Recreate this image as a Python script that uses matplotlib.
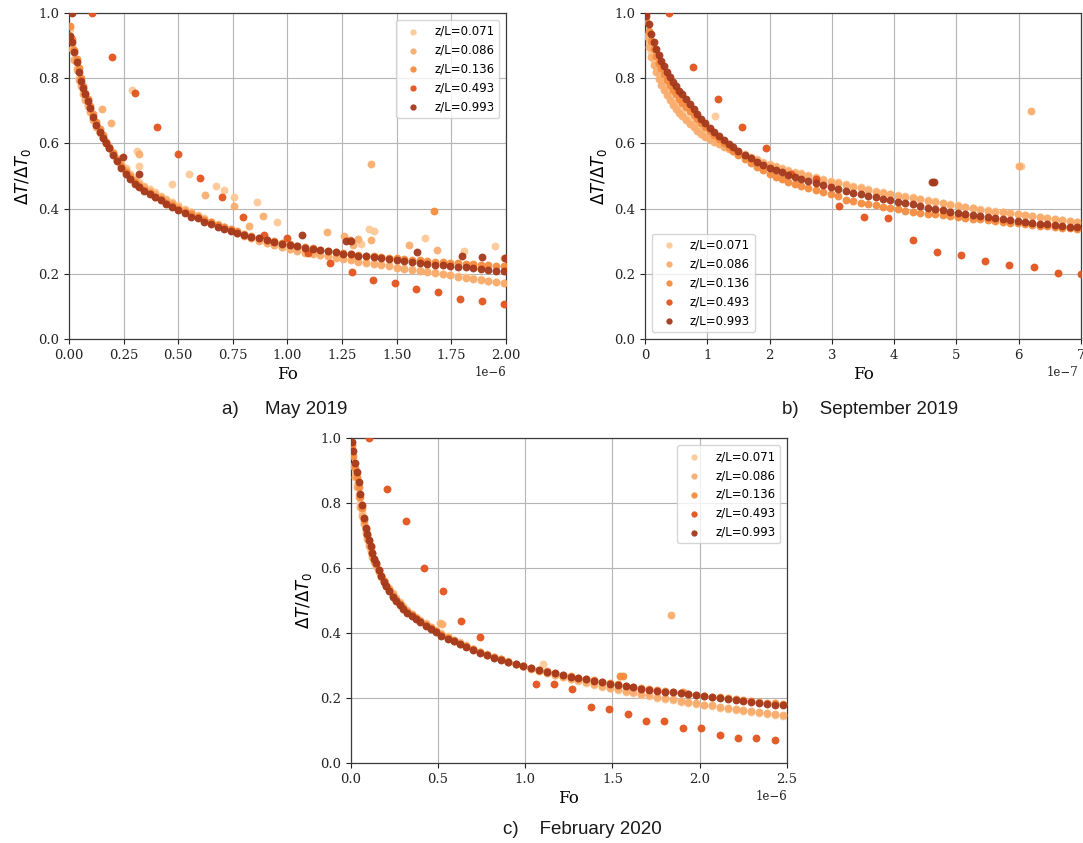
# Cooling curves dT/dT0 against Fourier number, three measurement campaigns

import matplotlib
matplotlib.use('Agg')
import matplotlib.pyplot as plt
import numpy as np

# ----------------------------------------------------------------------------------------------------------------------
#  DATA
# ----------------------------------------------------------------------------------------------------------------------

series_labels = ['z/L=0.071', 'z/L=0.086', 'z/L=0.136', 'z/L=0.493', 'z/L=0.993']
series_colors = ['#fdc997', '#f9ad6e', '#f68b3e', '#e3531b', '#a5391c']

# --- a) May 2019, Fo in units of 1e-6
fo_a = [0.005, 0.015, 0.025, 0.035, 0.045, 0.055, 0.065, 0.075, 0.085, 0.095,
        0.11, 0.125, 0.14, 0.155, 0.17, 0.185, 0.20, 0.22, 0.24, 0.26,
        0.28, 0.30, 0.32, 0.345, 0.37, 0.395, 0.42, 0.445, 0.47, 0.50,
        0.53, 0.56, 0.59, 0.62, 0.65, 0.68, 0.71, 0.74, 0.77, 0.80,
        0.835, 0.87, 0.905, 0.94, 0.975, 1.01, 1.045, 1.08, 1.115, 1.15,
        1.185, 1.22, 1.255, 1.29, 1.325, 1.36, 1.395, 1.43, 1.465, 1.50,
        1.535, 1.57, 1.605, 1.64, 1.675, 1.71, 1.745, 1.78, 1.815, 1.85,
        1.885, 1.92, 1.955, 1.99]
a071 = [0.95, 0.90, 0.86, 0.83, 0.80, 0.78, 0.76, 0.74, 0.72, 0.70,
        0.675, 0.655, 0.635, 0.62, 0.605, 0.59, 0.575, 0.555, 0.54, 0.525,
        0.505, 0.49, 0.48, 0.47, 0.46, 0.45, 0.44, 0.43, 0.42, 0.41,
        0.40, 0.39, 0.38, 0.37, 0.36, 0.352, 0.344, 0.335, 0.326, 0.318,
        0.31, 0.303, 0.295, 0.289, 0.282, 0.276, 0.272, 0.267, 0.263, 0.259,
        0.255, 0.251, 0.248, 0.244, 0.24, 0.236, 0.232, 0.229, 0.226, 0.222,
        0.218, 0.214, 0.211, 0.207, 0.204, 0.2, 0.197, 0.194, 0.19, 0.186,
        0.183, 0.179, 0.176, 0.172]
a086 = [0.93, 0.89, 0.855, 0.825, 0.795, 0.775, 0.752, 0.733, 0.714, 0.695,
        0.672, 0.65, 0.632, 0.615, 0.6, 0.585, 0.57, 0.552, 0.535, 0.518,
        0.502, 0.488, 0.476, 0.465, 0.455, 0.446, 0.436, 0.426, 0.417, 0.406,
        0.397, 0.388, 0.378, 0.368, 0.359, 0.35, 0.342, 0.333, 0.325, 0.317,
        0.309, 0.301, 0.294, 0.287, 0.281, 0.275, 0.27, 0.265, 0.261, 0.257,
        0.253, 0.249, 0.245, 0.241, 0.237, 0.234, 0.23, 0.227, 0.223, 0.219,
        0.216, 0.212, 0.208, 0.205, 0.201, 0.198, 0.195, 0.191, 0.188, 0.185,
        0.181, 0.178, 0.174, 0.171]
a136 = [0.96, 0.92, 0.885, 0.86, 0.83, 0.80, 0.775, 0.755, 0.735, 0.715,
        0.69, 0.665, 0.645, 0.625, 0.605, 0.59, 0.572, 0.55, 0.53, 0.512,
        0.497, 0.483, 0.47, 0.458, 0.447, 0.437, 0.428, 0.418, 0.41, 0.40,
        0.39, 0.382, 0.374, 0.366, 0.358, 0.35, 0.343, 0.336, 0.33, 0.323,
        0.317, 0.311, 0.305, 0.3, 0.294, 0.29, 0.285, 0.281, 0.278, 0.274,
        0.271, 0.268, 0.265, 0.262, 0.259, 0.256, 0.253, 0.251, 0.249, 0.247,
        0.245, 0.243, 0.241, 0.239, 0.237, 0.235, 0.233, 0.232, 0.23, 0.229,
        0.227, 0.226, 0.224, 0.223]
a993 = [0.93, 0.91, 0.88, 0.85, 0.82, 0.79, 0.77, 0.75, 0.73, 0.71,
        0.68, 0.655, 0.635, 0.615, 0.60, 0.585, 0.565, 0.545, 0.525, 0.505,
        0.49, 0.475, 0.465, 0.455, 0.445, 0.435, 0.425, 0.415, 0.405, 0.395,
        0.385, 0.375, 0.37, 0.36, 0.352, 0.345, 0.338, 0.332, 0.326, 0.32,
        0.314, 0.31, 0.303, 0.298, 0.292, 0.288, 0.284, 0.28, 0.277, 0.273,
        0.27, 0.266, 0.262, 0.26, 0.256, 0.253, 0.25, 0.247, 0.244, 0.242,
        0.24, 0.236, 0.234, 0.231, 0.228, 0.226, 0.224, 0.222, 0.22, 0.218,
        0.216, 0.213, 0.21, 0.207]
# scattered points off the main band
a071_fo_x = [0.29, 0.31, 0.32, 0.47, 0.55, 0.675, 0.71, 0.755, 0.86, 0.95, 1.336, 1.373, 1.397, 1.63, 1.81, 1.951]
a071_dt_x = [0.765, 0.576, 0.53, 0.474, 0.507, 0.468, 0.457, 0.437, 0.421, 0.358, 0.292, 0.337, 0.331, 0.31, 0.27, 0.286]
a086_fo_x = [0.153, 0.191, 0.32, 0.622, 0.757, 0.825, 0.889, 1.179, 1.259, 1.30, 1.324, 1.38, 1.384, 1.558, 1.686, 1.99]
a086_dt_x = [0.705, 0.663, 0.568, 0.441, 0.407, 0.348, 0.378, 0.327, 0.317, 0.289, 0.307, 0.303, 0.538, 0.287, 0.274, 0.248]
a136_fo_x = [1.285, 1.672]
a136_dt_x = [0.305, 0.394]
a993_fo_x = [0.012, 0.249, 0.322, 1.068, 1.27, 1.29, 1.594, 1.80, 1.889, 1.995]
a993_dt_x = [1.0, 0.559, 0.505, 0.32, 0.30, 0.30, 0.267, 0.255, 0.25, 0.247]
a493_fo = [0.104, 0.198, 0.30, 0.401, 0.497, 0.60, 0.699, 0.795, 0.893, 0.999,
           1.095, 1.194, 1.297, 1.39, 1.49, 1.59, 1.69, 1.79, 1.89, 1.99]
a493 = [1.0, 0.866, 0.754, 0.651, 0.566, 0.494, 0.437, 0.374, 0.32, 0.31,
        0.264, 0.233, 0.204, 0.18, 0.172, 0.153, 0.145, 0.123, 0.118, 0.108]

# --- b) September 2019, Fo in units of 1e-7
fo_b = [0.02, 0.06, 0.10, 0.14, 0.18, 0.22, 0.26, 0.30, 0.35, 0.40,
        0.45, 0.50, 0.55, 0.60, 0.66, 0.72, 0.78, 0.84, 0.90, 0.97,
        1.04, 1.11, 1.18, 1.26, 1.34, 1.42, 1.50, 1.60, 1.70, 1.80,
        1.90, 2.00, 2.10, 2.20, 2.30, 2.40, 2.50, 2.62, 2.74, 2.86,
        2.98, 3.10, 3.22, 3.34, 3.46, 3.58, 3.70, 3.82, 3.94, 4.06,
        4.18, 4.30, 4.42, 4.54, 4.66, 4.78, 4.90, 5.02, 5.14, 5.26,
        5.38, 5.50, 5.62, 5.74, 5.86, 5.98, 6.10, 6.22, 6.34, 6.46,
        6.58, 6.70, 6.82, 6.94]
b071 = [0.95, 0.91, 0.88, 0.855, 0.833, 0.812, 0.795, 0.778, 0.76, 0.743,
        0.728, 0.715, 0.703, 0.692, 0.68, 0.668, 0.657, 0.647, 0.637, 0.627,
        0.618, 0.61, 0.602, 0.595, 0.588, 0.581, 0.574, 0.566, 0.558, 0.551,
        0.544, 0.537, 0.531, 0.525, 0.519, 0.513, 0.508, 0.502, 0.496, 0.49,
        0.485, 0.48, 0.475, 0.47, 0.465, 0.46, 0.455, 0.45, 0.446, 0.442,
        0.438, 0.434, 0.43, 0.426, 0.422, 0.418, 0.414, 0.41, 0.406, 0.403,
        0.399, 0.396, 0.393, 0.39, 0.387, 0.384, 0.381, 0.378, 0.375, 0.372,
        0.369, 0.366, 0.363, 0.36]
b086 = [0.93, 0.895, 0.865, 0.84, 0.818, 0.798, 0.78, 0.765, 0.748, 0.732,
        0.718, 0.705, 0.694, 0.683, 0.671, 0.66, 0.649, 0.639, 0.63, 0.62,
        0.612, 0.604, 0.597, 0.59, 0.583, 0.577, 0.571, 0.563, 0.555, 0.548,
        0.541, 0.534, 0.528, 0.522, 0.516, 0.51, 0.505, 0.499, 0.493, 0.487,
        0.482, 0.477, 0.472, 0.467, 0.462, 0.457, 0.452, 0.448, 0.444, 0.44,
        0.436, 0.432, 0.428, 0.424, 0.42, 0.416, 0.412, 0.408, 0.404, 0.401,
        0.397, 0.394, 0.391, 0.388, 0.385, 0.382, 0.379, 0.376, 0.373, 0.37,
        0.367, 0.364, 0.361, 0.358]
b136 = [0.975, 0.945, 0.915, 0.89, 0.868, 0.848, 0.83, 0.813, 0.795, 0.778,
        0.763, 0.75, 0.737, 0.725, 0.711, 0.698, 0.686, 0.674, 0.662, 0.649,
        0.637, 0.625, 0.613, 0.6, 0.588, 0.576, 0.565, 0.552, 0.54, 0.528,
        0.517, 0.507, 0.498, 0.49, 0.483, 0.476, 0.47, 0.463, 0.456, 0.45,
        0.445, 0.439, 0.426, 0.422, 0.418, 0.414, 0.41, 0.406, 0.402, 0.398,
        0.394, 0.39, 0.387, 0.384, 0.382, 0.38, 0.377, 0.374, 0.372, 0.369,
        0.367, 0.364, 0.362, 0.36, 0.357, 0.355, 0.352, 0.35, 0.348, 0.346,
        0.343, 0.341, 0.339, 0.336]
b993 = [0.99, 0.965, 0.937, 0.912, 0.89, 0.87, 0.853, 0.837, 0.82, 0.803,
        0.788, 0.775, 0.762, 0.75, 0.735, 0.72, 0.705, 0.69, 0.676, 0.661,
        0.647, 0.634, 0.622, 0.61, 0.599, 0.588, 0.577, 0.565, 0.554, 0.544,
        0.535, 0.526, 0.518, 0.511, 0.504, 0.498, 0.492, 0.485, 0.478, 0.472,
        0.466, 0.46, 0.454, 0.449, 0.444, 0.439, 0.434, 0.43, 0.426, 0.421,
        0.417, 0.413, 0.408, 0.403, 0.399, 0.396, 0.39, 0.386, 0.383, 0.38,
        0.377, 0.374, 0.371, 0.368, 0.365, 0.362, 0.36, 0.357, 0.354, 0.352,
        0.349, 0.347, 0.344, 0.342]
b071_fo_x = [1.124, 6.04]
b071_dt_x = [0.683, 0.532]
b086_fo_x = [6.0, 6.19]
b086_dt_x = [0.532, 0.70]
b136_fo_x = []
b136_dt_x = []
b993_fo_x = [0.01, 4.61, 4.64]
b993_dt_x = [1.0, 0.48, 0.48]
b493_fo = [0.39, 0.77, 1.17, 1.56, 1.94, 2.34, 2.74, 3.12, 3.51, 3.90, 4.30, 4.68, 5.07, 5.46, 5.85, 6.24, 6.63, 7.0]
b493 = [1.0, 0.835, 0.735, 0.65, 0.586, 0.505, 0.491, 0.407, 0.375, 0.372, 0.305, 0.267, 0.258, 0.24, 0.226, 0.22, 0.202, 0.2]

# --- c) February 2020, Fo in units of 1e-6
fo_c = [0.005, 0.015, 0.025, 0.035, 0.045, 0.055, 0.065, 0.075, 0.085, 0.095,
        0.105, 0.115, 0.125, 0.135, 0.145, 0.16, 0.175, 0.19, 0.205, 0.22,
        0.24, 0.26, 0.28, 0.30, 0.325, 0.35, 0.375, 0.40, 0.43, 0.46,
        0.49, 0.52, 0.555, 0.59, 0.625, 0.66, 0.70, 0.74, 0.78, 0.82,
        0.86, 0.90, 0.945, 0.99, 1.035, 1.08, 1.125, 1.17, 1.215, 1.26,
        1.305, 1.35, 1.395, 1.44, 1.485, 1.53, 1.575, 1.62, 1.665, 1.71,
        1.755, 1.80, 1.845, 1.89, 1.935, 1.98, 2.025, 2.07, 2.115, 2.16,
        2.205, 2.25, 2.295, 2.34, 2.385, 2.43, 2.475]
c071 = [0.97, 0.93, 0.89, 0.86, 0.83, 0.80, 0.77, 0.74, 0.715, 0.695,
        0.675, 0.655, 0.64, 0.625, 0.61, 0.592, 0.577, 0.563, 0.55, 0.538,
        0.523, 0.509, 0.496, 0.485, 0.472, 0.461, 0.451, 0.442, 0.431, 0.421,
        0.411, 0.401, 0.391, 0.381, 0.372, 0.363, 0.353, 0.344, 0.336, 0.328,
        0.321, 0.314, 0.306, 0.299, 0.292, 0.285, 0.279, 0.273, 0.267, 0.261,
        0.254, 0.248, 0.242, 0.236, 0.231, 0.226, 0.221, 0.216, 0.211, 0.207,
        0.202, 0.198, 0.194, 0.19, 0.186, 0.182, 0.178, 0.175, 0.171, 0.168,
        0.165, 0.162, 0.159, 0.156, 0.153, 0.15, 0.147]
c086 = [0.95, 0.915, 0.88, 0.85, 0.82, 0.79, 0.762, 0.735, 0.71, 0.69,
        0.67, 0.652, 0.636, 0.621, 0.607, 0.589, 0.574, 0.56, 0.547, 0.535,
        0.52, 0.506, 0.493, 0.482, 0.469, 0.458, 0.448, 0.439, 0.428, 0.418,
        0.408, 0.398, 0.388, 0.378, 0.369, 0.36, 0.351, 0.342, 0.334, 0.327,
        0.32, 0.313, 0.305, 0.298, 0.291, 0.284, 0.278, 0.272, 0.266, 0.26,
        0.255, 0.249, 0.244, 0.238, 0.233, 0.228, 0.223, 0.219, 0.214, 0.21,
        0.205, 0.201, 0.197, 0.193, 0.189, 0.185, 0.181, 0.178, 0.174, 0.171,
        0.168, 0.165, 0.162, 0.159, 0.156, 0.153, 0.15]
c136 = [0.98, 0.945, 0.91, 0.88, 0.85, 0.82, 0.785, 0.75, 0.722, 0.702,
        0.684, 0.665, 0.646, 0.629, 0.614, 0.595, 0.578, 0.561, 0.547, 0.534,
        0.516, 0.502, 0.489, 0.478, 0.466, 0.455, 0.446, 0.437, 0.426, 0.416,
        0.406, 0.396, 0.386, 0.377, 0.368, 0.36, 0.351, 0.342, 0.334, 0.327,
        0.32, 0.313, 0.306, 0.3, 0.294, 0.288, 0.283, 0.278, 0.273, 0.268,
        0.264, 0.259, 0.255, 0.251, 0.247, 0.243, 0.239, 0.236, 0.232, 0.229,
        0.226, 0.223, 0.22, 0.217, 0.214, 0.211, 0.208, 0.205, 0.203, 0.2,
        0.198, 0.195, 0.193, 0.19, 0.187, 0.185, 0.182]
c993 = [0.99, 0.96, 0.925, 0.895, 0.865, 0.83, 0.795, 0.755, 0.725, 0.705,
        0.688, 0.668, 0.648, 0.63, 0.615, 0.595, 0.577, 0.559, 0.545, 0.531,
        0.513, 0.499, 0.486, 0.475, 0.463, 0.452, 0.443, 0.434, 0.423, 0.413,
        0.403, 0.393, 0.384, 0.375, 0.366, 0.358, 0.349, 0.34, 0.332, 0.325,
        0.319, 0.312, 0.305, 0.299, 0.293, 0.287, 0.282, 0.277, 0.272, 0.267,
        0.262, 0.258, 0.253, 0.249, 0.245, 0.241, 0.237, 0.234, 0.23, 0.227,
        0.224, 0.221, 0.218, 0.215, 0.212, 0.209, 0.206, 0.203, 0.2, 0.198,
        0.195, 0.192, 0.19, 0.187, 0.184, 0.181, 0.178]
c071_fo_x = [1.104]
c071_dt_x = [0.305]
c086_fo_x = [0.513, 0.521, 1.835]
c086_dt_x = [0.431, 0.429, 0.456]
c136_fo_x = [1.545, 1.56, 1.906]
c136_dt_x = [0.268, 0.268, 0.22]
c993_fo_x = []
c993_dt_x = []
c493_fo = [0.107, 0.21, 0.317, 0.422, 0.528, 0.634, 0.74, 1.06, 1.166, 1.27, 1.375,
           1.481, 1.587, 1.692, 1.798, 1.903, 2.008, 2.114, 2.22, 2.325, 2.43]
c493 = [1.0, 0.844, 0.747, 0.60, 0.53, 0.438, 0.389, 0.245, 0.245, 0.228, 0.172,
        0.166, 0.152, 0.13, 0.13, 0.11, 0.11, 0.088, 0.077, 0.077, 0.072]

# ----------------------------------------------------------------------------------------------------------------------
#  PLOT
# ----------------------------------------------------------------------------------------------------------------------

plt.rcParams.update({'font.family': 'DejaVu Serif',
                     'mathtext.fontset': 'dejavusans',
                     'xtick.labelsize': 9.5,
                     'ytick.labelsize': 9.5})


def draw_panel(ax, fo, dense, extras, fo_493, dt_493, scale, xmax, legend_loc):
    """dense: y-lists for 0.071, 0.086, 0.136, 0.993 on the shared fo grid;
    extras: (fo, dt) lists of off-band points for the same four series"""
    order = [0, 1, 2, None, 3]   # 0.493 is drawn fourth, 0.993 on top
    for i, k in enumerate(order):
        if k is None:
            x = np.array(fo_493)
            y = np.array(dt_493)
        else:
            x = np.array(fo + extras[k][0])
            y = np.array(dense[k] + extras[k][1])
        ax.scatter(x * scale, y, s=32, color=series_colors[i], linewidths=0,
                   alpha=0.95, label=series_labels[i], zorder=2 + i)

    ax.set_xlim(0, xmax * scale)
    ax.set_ylim(0, 1.0)
    ax.grid(True, color='#b5b5b5', linewidth=0.8)
    ax.set_axisbelow(True)
    for sp in ax.spines.values():
        sp.set_color('#3c3c3c')
        sp.set_linewidth(0.9)
    ax.tick_params(colors='#222222', length=3.5, width=0.8)
    ax.xaxis.get_offset_text().set_fontsize(8.5)
    ax.set_xlabel('Fo', fontsize=12, labelpad=3)
    ax.set_ylabel(r'$\Delta T/\Delta T_0$', fontsize=12, family='DejaVu Sans')
    ax.legend(loc=legend_loc, prop={'family': 'DejaVu Sans', 'size': 8.5},
              markerscale=0.8, borderaxespad=0.6)


fig = plt.figure(figsize=(10.83, 8.43), dpi=100)

ax_a = fig.add_axes([0.0637, 0.5979, 0.4035, 0.3867])
ax_b = fig.add_axes([0.5956, 0.5979, 0.4026, 0.3867])
ax_c = fig.add_axes([0.3238, 0.0945, 0.4029, 0.3855])

draw_panel(ax_a, fo_a, [a071, a086, a136, a993],
           [(a071_fo_x, a071_dt_x), (a086_fo_x, a086_dt_x), (a136_fo_x, a136_dt_x), (a993_fo_x, a993_dt_x)],
           a493_fo, a493, 1e-6, 2.0, 'upper right')
draw_panel(ax_b, fo_b, [b071, b086, b136, b993],
           [(b071_fo_x, b071_dt_x), (b086_fo_x, b086_dt_x), (b136_fo_x, b136_dt_x), (b993_fo_x, b993_dt_x)],
           b493_fo, b493, 1e-7, 7.0, 'lower left')
draw_panel(ax_c, fo_c, [c071, c086, c136, c993],
           [(c071_fo_x, c071_dt_x), (c086_fo_x, c086_dt_x), (c136_fo_x, c136_dt_x), (c993_fo_x, c993_dt_x)],
           c493_fo, c493, 1e-6, 2.5, 'upper right')

# keep the offset label of panel b inside the canvas
ax_b.xaxis.get_offset_text().set_x(0.994)

# panel captions
cap = dict(fontsize=13.5, family='Liberation Sans', color='#1a1a1a', ha='center', va='center')
fig.text(285 / 1083, 1 - 409 / 843, 'a)     May 2019', **cap)
fig.text(870 / 1083, 1 - 409 / 843, 'b)    September 2019', **cap)
fig.text(582 / 1083, 1 - 830 / 843, 'c)    February 2020', **cap)

fig.savefig('out.png', dpi=100)
